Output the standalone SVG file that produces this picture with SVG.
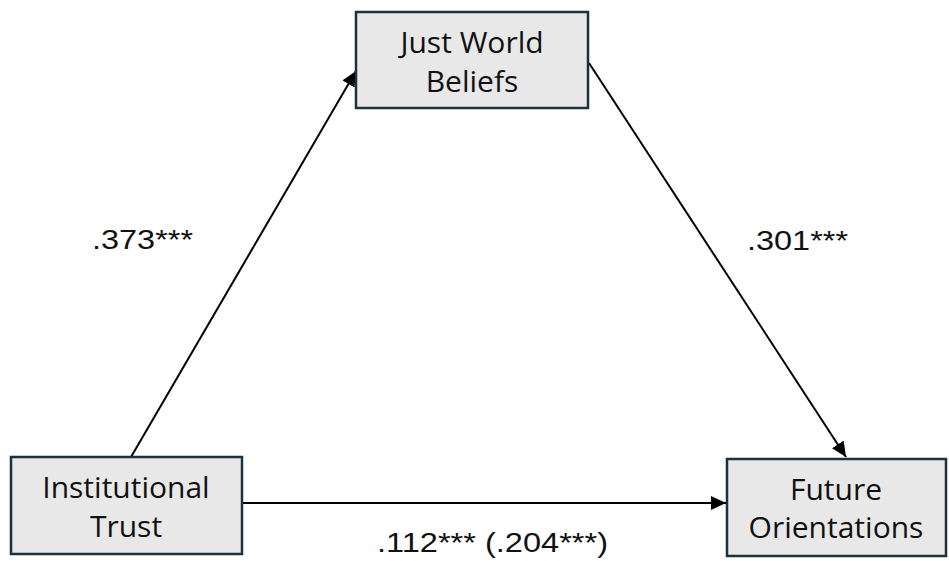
<svg xmlns="http://www.w3.org/2000/svg" width="949" height="561" viewBox="0 0 949 561">
<style>
.box{fill:#e8e8e8;stroke:#1b3142;stroke-width:2.5}
.bt{font-family:"Open Sans","Noto Sans",sans-serif;font-size:30px;fill:#111;text-anchor:middle}
.lbl{font-family:"Liberation Sans",Arial,sans-serif;font-size:28px;fill:#111}
.conn{stroke:#000;stroke-width:2;fill:none;marker-end:url(#ah)}
</style>
<defs>
<marker id="ah" markerUnits="userSpaceOnUse" markerWidth="16" markerHeight="14" refX="15" refY="7" orient="auto">
<path d="M0,0 L15,7 L0,14 z" fill="#000"/>
</marker>
</defs>
<rect width="949" height="561" fill="#fff"/>
<g id="connectors">
<line class="conn" x1="131" y1="457" x2="356" y2="71"/>
<line class="conn" x1="589" y1="63" x2="846" y2="457"/>
<line class="conn" x1="243" y1="503" x2="726" y2="503"/>
</g>
<g id="node-jwb">
<rect class="box" x="356" y="12" width="232" height="96"/>
<text class="bt" x="472" y="53">Just World</text>
<text class="bt" x="472" y="92">Beliefs</text>
</g>
<g id="node-it">
<rect class="box" x="11" y="457" width="231" height="97"/>
<text class="bt" x="126" y="498">Institutional</text>
<text class="bt" x="126" y="537">Trust</text>
</g>
<g id="node-fo">
<rect class="box" x="727" y="459" width="219" height="97"/>
<text class="bt" x="836" y="500">Future</text>
<text class="bt" x="836" y="538">Orientations</text>
</g>
<g id="labels">
<text class="lbl" x="92" y="249" textLength="101" lengthAdjust="spacingAndGlyphs">.373***</text>
<text class="lbl" x="747" y="250" textLength="101" lengthAdjust="spacingAndGlyphs">.301***</text>
<text class="lbl" x="377" y="552" textLength="231" lengthAdjust="spacingAndGlyphs">.112*** (.204***)</text>
</g>
</svg>
